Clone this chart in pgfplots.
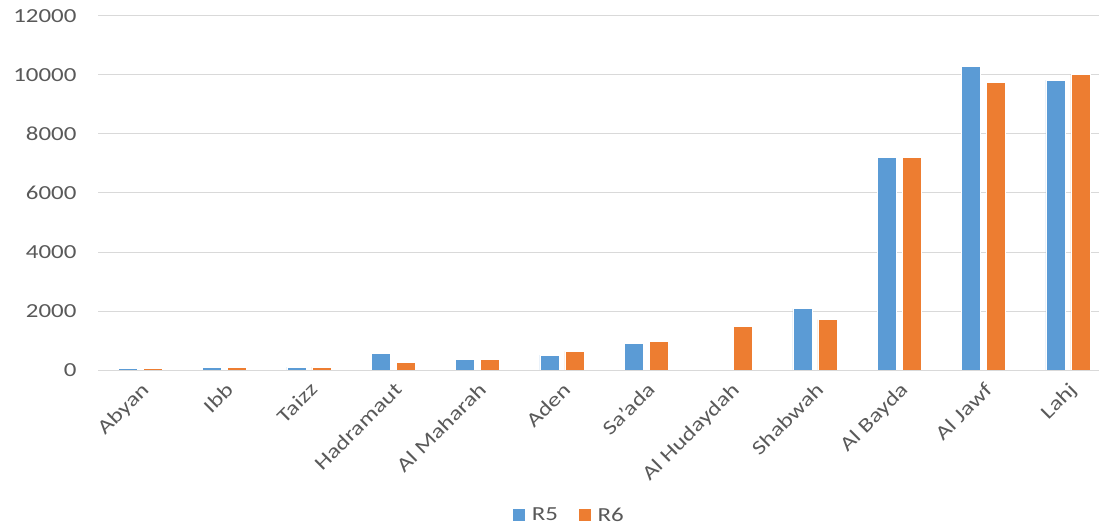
\documentclass[border=0pt]{standalone}
\usepackage{pgfplots}
\pgfplotsset{compat=1.18}
\usepackage{fontspec}
\setmainfont[FakeStretch=1.25]{Carlito}
\definecolor{cblue}{HTML}{5B9BD5}
\definecolor{corange}{HTML}{ED7D31}
\definecolor{txt}{HTML}{595959}
\definecolor{gridc}{HTML}{D9D9D9}
\begin{document}
\begin{tikzpicture}
\begin{axis}[
  at={(98bp,157bp)}, anchor=south west,
  scale only axis,
  width=1001bp, height=354bp,
  xmin=-0.5, xmax=11.37,
  ymin=0, ymax=12000,
  ybar, bar width=19bp,
  ytick={0,2000,4000,6000,8000,10000,12000},
  scaled y ticks=false,
  xtick={0,...,11},
  xticklabels={Abyan,Ibb,Taizz,Hadramaut,Al Maharah,Aden,Sa'ada,Al Hudaydah,Shabwah,Al Bayda,Al Jawf,Lahj},
  x tick label style={rotate=45, anchor=north east, inner sep=0pt, font=\fontsize{20}{21}\selectfont},
  xticklabel shift=11bp,
  y tick label style={font=\fontsize{20}{21}\selectfont},
  yticklabel shift=18bp,
  tick label style={text=txt},
  /pgf/number format/assume math mode=true,
  /pgf/number format/1000 sep={},
  xmajorgrids=false,
  ymajorgrids, major grid style={gridc, line width=1pt},
  axis line style={draw=none},
  major tick length=0pt,
  tick style={draw=none},
  legend style={at={(0.4715,-0.41)}, anchor=center, draw=none, legend columns=2,
    font=\fontsize{20}{21}\selectfont, text=txt,
    /tikz/every odd column/.append style={column sep=2bp},
    /tikz/every even column/.append style={column sep=16bp},
    nodes={inner xsep=4bp}},
  legend image code/.code={\fill[#1] (0bp,-6.5bp) rectangle (13bp,6.5bp);},
]
\addplot[fill=cblue, draw=white, line width=0.6pt, bar shift=-12.5bp] coordinates {
(0,50) (1,100) (2,100) (3,570) (4,360) (5,500) (6,890) (7,0) (8,2080) (9,7200) (10,10300) (11,9830)};
\addplot[fill=corange, draw=white, line width=0.6pt, bar shift=12.5bp] coordinates {
(0,50) (1,100) (2,100) (3,250) (4,360) (5,630) (6,970) (7,1470) (8,1710) (9,7200) (10,9750) (11,10020)};
\legend{R5,R6}
\end{axis}
\pgfresetboundingbox
\path (0,0) rectangle (1099bp,527bp);
\end{tikzpicture}
\end{document}
